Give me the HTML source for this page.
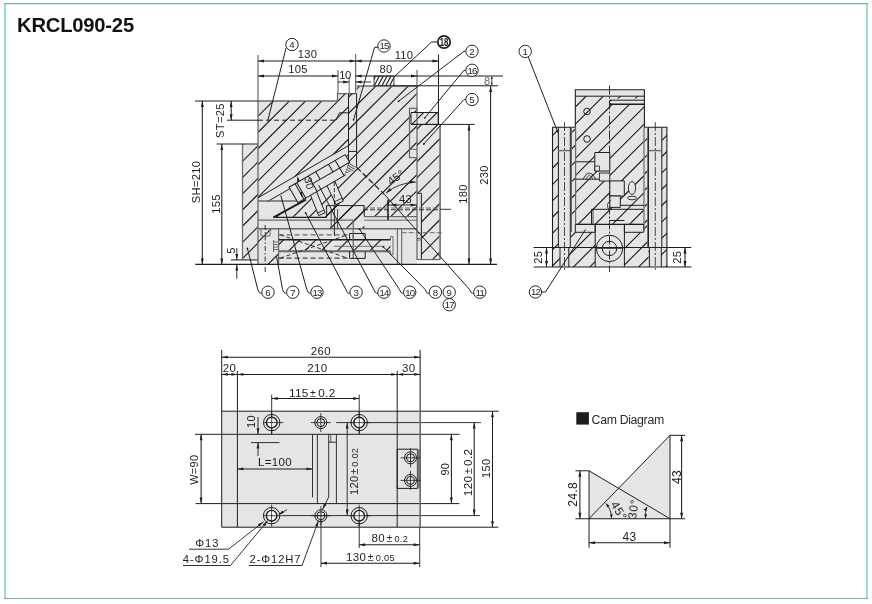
<!DOCTYPE html>
<html><head><meta charset="utf-8"><style>
html,body{margin:0;padding:0;background:#fff;width:872px;height:604px;overflow:hidden}
svg{display:block;will-change:transform}
text{font-family:"Liberation Sans",sans-serif}
</style></head><body>
<svg width="872" height="604" viewBox="0 0 872 604" font-family="Liberation Sans, sans-serif">
<defs><clipPath id="c1"><polygon points="258.0,101.0 337.5,101.0 337.5,93.7 348.5,93.7 348.5,145.6 258.0,197.8"/></clipPath><clipPath id="c2"><polygon points="242.5,144.0 258.0,144.0 258.0,259.9 242.5,259.9"/></clipPath><clipPath id="c3"><polygon points="348.5,93.7 356.6,93.7 356.6,167.0 348.5,167.0"/></clipPath><clipPath id="c4"><polygon points="356.6,86.0 417.0,86.0 417.0,205.0 393.7,205.0 384.3,194.3 356.6,167.4"/></clipPath><clipPath id="c5"><polygon points="417.0,124.4 440.3,124.4 440.3,259.6 421.4,259.6 421.4,193.3 417.0,193.3"/></clipPath><clipPath id="c6"><polygon points="411.0,112.5 438.2,112.5 438.2,124.4 411.0,124.4"/></clipPath><clipPath id="c7"><polygon points="374.0,76.0 394.0,76.0 394.0,85.7 374.0,85.7"/></clipPath><clipPath id="c8"><polygon points="273.5,217.4 306.0,199.6 337.0,184.0 356.6,167.4 384.3,194.3 393.7,205.2 417.0,205.2 417.0,216.6 364.2,216.6 364.2,228.5 353.2,228.5 353.2,220.2 326.6,220.2 326.6,217.4"/></clipPath><clipPath id="c9"><polygon points="278.6,239.7 390.5,239.7 390.5,251.3 278.6,251.3"/></clipPath><clipPath id="c10"><polygon points="326.6,205.6 364.2,205.6 364.2,228.5 326.6,228.5"/></clipPath><clipPath id="c11"><polygon points="258.0,228.7 278.6,228.7 278.6,264.4 258.0,264.4"/></clipPath><clipPath id="c12"><polygon points="344.4,174.9 349.8,162.4 356.6,167.4 353.0,171.0"/></clipPath><clipPath id="c13"><polygon points="575.3,96.2 644.4,96.2 644.4,224.4 575.3,224.4"/></clipPath><clipPath id="c14"><polygon points="552.5,127.2 575.3,127.2 575.3,267.0 552.5,267.0"/></clipPath><clipPath id="c15"><polygon points="644.4,127.2 666.9,127.2 666.9,267.0 644.4,267.0"/></clipPath><clipPath id="c16"><polygon points="568.8,224.4 648.5,224.4 648.5,267.0 568.8,267.0"/></clipPath></defs>
<line x1="5" y1="3" x2="5" y2="599" stroke="#8fd2c9" stroke-width="1.7"/>
<line x1="867" y1="3" x2="867" y2="599" stroke="#8fd2c9" stroke-width="1.7"/>
<line x1="4.2" y1="3.7" x2="867.8" y2="3.7" stroke="#70b2a9" stroke-width="1.2"/>
<line x1="4.2" y1="598.5" x2="867.8" y2="598.5" stroke="#70b2a9" stroke-width="1.2"/>
<text x="17.0" y="32.0" font-size="20.2" text-anchor="start" fill="#111" font-weight="bold" letter-spacing="-0.2">KRCL090-25</text>
<polygon points="258.0,197.8 348.5,145.6 356.6,167.0 387.7,198.0 417.0,205.0 417.0,264.4 258.0,264.4" fill="#e4e5e7" stroke="none"/>
<polygon points="258.0,101.0 337.5,101.0 337.5,93.7 348.5,93.7 348.5,145.6 258.0,197.8" fill="#e4e5e7" stroke="none"/>
<path clip-path="url(#c1)" d="M-1251.4,1577.0L1577.0,-1251.4M-1243.3,1585.1L1585.1,-1243.3M-1235.2,1593.2L1593.2,-1235.2M-1227.1,1601.3L1601.3,-1227.1M-1219.0,1609.4L1609.4,-1219.0M-1210.9,1617.5L1617.5,-1210.9M-1202.8,1625.6L1625.6,-1202.8M-1194.7,1633.7L1633.7,-1194.7M-1186.6,1641.8L1641.8,-1186.6M-1178.5,1649.9L1649.9,-1178.5M-1170.4,1658.0L1658.0,-1170.4M-1162.3,1666.1L1666.1,-1162.3M-1154.2,1674.2L1674.2,-1154.2M-1146.1,1682.3L1682.3,-1146.1M-1138.0,1690.5L1690.5,-1138.0M-1129.9,1698.6L1698.6,-1129.9" stroke="#1a1a1a" stroke-width="1.1" fill="none"/>
<polygon points="242.5,144.0 258.0,144.0 258.0,259.9 242.5,259.9" fill="#e4e5e7" stroke="none"/>
<path clip-path="url(#c2)" d="M-1236.6,1591.8L1591.8,-1236.6M-1228.5,1599.9L1599.9,-1228.5M-1220.4,1608.0L1608.0,-1220.4M-1212.3,1616.1L1616.1,-1212.3M-1204.2,1624.2L1624.2,-1204.2M-1196.1,1632.3L1632.3,-1196.1M-1188.0,1640.4L1640.4,-1188.0M-1179.9,1648.5L1648.5,-1179.9M-1171.8,1656.6L1656.6,-1171.8M-1163.7,1664.7L1664.7,-1163.7M-1155.6,1672.8L1672.8,-1155.6M-1147.5,1680.9L1680.9,-1147.5M-1139.4,1689.0L1689.0,-1139.4" stroke="#1a1a1a" stroke-width="1.1" fill="none"/>
<polygon points="348.5,93.7 356.6,93.7 356.6,167.0 348.5,167.0" fill="#e4e5e7" stroke="none"/>
<path clip-path="url(#c3)" d="M-1207.6,1620.8L1620.8,-1207.6M-1199.5,1628.9L1628.9,-1199.5M-1191.4,1637.1L1637.1,-1191.4M-1183.3,1645.2L1645.2,-1183.3M-1175.2,1653.3L1653.3,-1175.2M-1167.1,1661.4L1661.4,-1167.1M-1159.0,1669.5L1669.5,-1159.0M-1150.9,1677.6L1677.6,-1150.9M-1142.8,1685.7L1685.7,-1142.8" stroke="#1a1a1a" stroke-width="1.1" fill="none"/>
<polygon points="356.6,86.0 417.0,86.0 417.0,205.0 393.7,205.0 384.3,194.3 356.6,167.4" fill="#e4e5e7" stroke="none"/>
<path clip-path="url(#c4)" d="M-1207.6,1620.8L1620.8,-1207.6M-1199.5,1628.9L1628.9,-1199.5M-1191.4,1637.1L1637.1,-1191.4M-1183.3,1645.2L1645.2,-1183.3M-1175.2,1653.3L1653.3,-1175.2M-1167.1,1661.4L1661.4,-1167.1M-1159.0,1669.5L1669.5,-1159.0M-1150.9,1677.6L1677.6,-1150.9M-1142.8,1685.7L1685.7,-1142.8M-1134.7,1693.8L1693.8,-1134.7M-1126.5,1701.9L1701.9,-1126.5M-1118.4,1710.0L1710.0,-1118.4M-1110.3,1718.1L1718.1,-1110.3M-1102.2,1726.2L1726.2,-1102.2M-1094.1,1734.3L1734.3,-1094.1" stroke="#1a1a1a" stroke-width="1.1" fill="none"/>
<polygon points="417.0,124.4 421.4,124.4 421.4,259.6 417.0,259.6" fill="#e4e5e7" stroke="none"/>
<polygon points="417.0,124.4 440.3,124.4 440.3,259.6 421.4,259.6 421.4,193.3 417.0,193.3" fill="#e4e5e7" stroke="none"/>
<path clip-path="url(#c5)" d="M-1157.3,1671.1L1671.1,-1157.3M-1149.2,1679.2L1679.2,-1149.2M-1141.1,1687.3L1687.3,-1141.1M-1133.0,1695.4L1695.4,-1133.0M-1124.9,1703.5L1703.5,-1124.9M-1116.8,1711.6L1711.6,-1116.8M-1108.7,1719.7L1719.7,-1108.7M-1100.6,1727.8L1727.8,-1100.6M-1092.5,1735.9L1735.9,-1092.5M-1084.4,1744.0L1744.0,-1084.4M-1076.3,1752.1L1752.1,-1076.3M-1068.2,1760.2L1760.2,-1068.2M-1060.1,1768.3L1768.3,-1060.1M-1052.0,1776.4L1776.4,-1052.0" stroke="#1a1a1a" stroke-width="1.1" fill="none"/>
<polygon points="411.0,112.5 438.2,112.5 438.2,124.4 411.0,124.4" fill="#e4e5e7" stroke="none"/>
<path clip-path="url(#c6)" d="M-1159.5,1668.9L1668.9,-1159.5M-1152.8,1675.6L1675.6,-1152.8M-1146.1,1682.3L1682.3,-1146.1M-1139.4,1689.1L1689.1,-1139.4M-1132.6,1695.8L1695.8,-1132.6M-1125.9,1702.5L1702.5,-1125.9" stroke="#1a1a1a" stroke-width="1.1" fill="none"/>
<polygon points="374.0,76.0 394.0,76.0 394.0,85.7 374.0,85.7" fill="#f4f4f4" stroke="none"/>
<path clip-path="url(#c7)" d="M-620.7,1935.1L1257.2,-1596.7M-617.7,1936.7L1260.2,-1595.1M-614.7,1938.3L1263.2,-1593.5M-611.7,1939.9L1266.2,-1591.9M-608.7,1941.5L1269.2,-1590.3M-605.7,1943.1L1272.2,-1588.7M-602.7,1944.7L1275.2,-1587.1M-599.7,1946.3L1278.2,-1585.5M-596.7,1947.9L1281.2,-1583.9M-593.7,1949.5L1284.2,-1582.3M-590.7,1951.1L1287.2,-1580.7" stroke="#1a1a1a" stroke-width="1.1" fill="none"/>
<polyline points="258.0,264.4 258.0,101.0 337.5,101.0 337.5,93.7 348.5,93.7" stroke="#6a6a6a" stroke-width="1.3" fill="none"/>
<polyline points="242.5,259.9 242.5,144.0 258.0,144.0" stroke="#6a6a6a" stroke-width="1.3" fill="none"/>
<polyline points="348.5,93.7 348.5,167.0" stroke="#1e1e1e" stroke-width="1" fill="none"/>
<polyline points="356.6,93.7 356.6,167.4" stroke="#1e1e1e" stroke-width="1" fill="none"/>
<line x1="348.5" y1="93.7" x2="356.6" y2="93.7" stroke="#1e1e1e" stroke-width="1"/>
<line x1="348.5" y1="151.4" x2="356.6" y2="151.4" stroke="#1e1e1e" stroke-width="1"/>
<polyline points="356.6,86.0 417.0,86.0" stroke="#6a6a6a" stroke-width="1.6" fill="none"/>
<polyline points="417.0,86.0 417.0,108.4 409.5,108.4 409.5,157.6 417.0,157.6" stroke="#6a6a6a" stroke-width="1.2" fill="none"/>
<line x1="409.5" y1="149.4" x2="417.0" y2="149.4" stroke="#6a6a6a" stroke-width="1"/>
<line x1="417.0" y1="108.4" x2="417.0" y2="259.6" stroke="#6a6a6a" stroke-width="1.3"/>
<line x1="421.4" y1="193.3" x2="421.4" y2="259.6" stroke="#1e1e1e" stroke-width="1"/>
<line x1="417.0" y1="193.3" x2="421.4" y2="193.3" stroke="#1e1e1e" stroke-width="1"/>
<line x1="440.1" y1="124.4" x2="440.1" y2="259.6" stroke="#7c7c7c" stroke-width="1.8"/>
<polyline points="411.0,112.5 438.2,112.5 438.2,124.4 411.0,124.4 411.0,112.5" stroke="#1e1e1e" stroke-width="1" fill="none"/>
<polyline points="374.0,76.0 394.0,76.0 394.0,85.7 374.0,85.7 374.0,76.0" stroke="#1e1e1e" stroke-width="0.8" fill="none"/>
<line x1="258.0" y1="120.2" x2="336.0" y2="120.2" stroke="#1e1e1e" stroke-width="1" stroke-dasharray="5,3"/>
<polyline points="336.0,120.2 339.5,112.8 348.5,112.8" stroke="#1e1e1e" stroke-width="1" fill="none"/>
<line x1="356.6" y1="167.4" x2="384.3" y2="194.3" stroke="#1e1e1e" stroke-width="1.25" stroke-dasharray="6,2.5"/>
<line x1="258.0" y1="197.8" x2="348.5" y2="145.6" stroke="#1e1e1e" stroke-width="1"/>
<line x1="267.0" y1="201.8" x2="348.5" y2="155.0" stroke="#1e1e1e" stroke-width="1"/>
<path clip-path="url(#c8)" d="M-1207.8,1620.6L1620.6,-1207.8M-1199.7,1628.7L1628.7,-1199.7M-1191.6,1636.8L1636.8,-1191.6M-1183.5,1644.9L1644.9,-1183.5M-1175.4,1653.0L1653.0,-1175.4M-1167.3,1661.1L1661.1,-1167.3M-1159.2,1669.3L1669.3,-1159.2M-1151.1,1677.4L1677.4,-1151.1M-1143.0,1685.5L1685.5,-1143.0M-1134.9,1693.6L1693.6,-1134.9M-1126.8,1701.7L1701.7,-1126.8M-1118.7,1709.8L1709.8,-1118.7M-1110.6,1717.9L1717.9,-1110.6M-1102.5,1726.0L1726.0,-1102.5M-1094.3,1734.1L1734.1,-1094.3M-1086.2,1742.2L1742.2,-1086.2M-1078.1,1750.3L1750.3,-1078.1" stroke="#1a1a1a" stroke-width="1.1" fill="none"/>
<path clip-path="url(#c9)" d="M-1168.7,1659.7L1659.7,-1168.7M-1160.6,1667.8L1667.8,-1160.6M-1152.5,1675.9L1675.9,-1152.5M-1144.4,1684.0L1684.0,-1144.4M-1136.3,1692.1L1692.1,-1136.3M-1128.2,1700.3L1700.3,-1128.2M-1120.1,1708.4L1708.4,-1120.1M-1112.0,1716.5L1716.5,-1112.0M-1103.9,1724.6L1724.6,-1103.9M-1095.8,1732.7L1732.7,-1095.8M-1087.7,1740.8L1740.8,-1087.7M-1079.6,1748.9L1748.9,-1079.6" stroke="#1a1a1a" stroke-width="1.1" fill="none"/>
<path clip-path="url(#c10)" d="M-1159.2,1669.3L1669.3,-1159.2M-1151.1,1677.4L1677.4,-1151.1M-1143.0,1685.5L1685.5,-1143.0M-1134.9,1693.6L1693.6,-1134.9M-1126.8,1701.7L1701.7,-1126.8M-1118.7,1709.8L1709.8,-1118.7M-1110.6,1717.9L1717.9,-1110.6M-1102.5,1726.0L1726.0,-1102.5" stroke="#1a1a1a" stroke-width="1.1" fill="none"/>
<path clip-path="url(#c11)" d="M-1196.6,1631.9L1631.9,-1196.6M-1180.4,1648.1L1648.1,-1180.4M-1164.2,1664.2L1664.2,-1164.2M-1148.0,1680.4L1680.4,-1148.0M-1131.8,1696.6L1696.6,-1131.8M-1115.6,1712.8L1712.8,-1115.6" stroke="#1a1a1a" stroke-width="1.1" fill="none"/>
<line x1="258.0" y1="201.0" x2="300.0" y2="201.0" stroke="#6a6a6a" stroke-width="1.3"/>
<line x1="273.5" y1="217.4" x2="326.6" y2="217.4" stroke="#1e1e1e" stroke-width="1.4"/>
<line x1="273.5" y1="217.4" x2="306.0" y2="199.6" stroke="#1e1e1e" stroke-width="1.8"/>
<line x1="258.0" y1="220.2" x2="353.2" y2="220.2" stroke="#6a6a6a" stroke-width="1.2"/>
<line x1="364.2" y1="216.6" x2="417.0" y2="216.6" stroke="#6a6a6a" stroke-width="1.3"/>
<line x1="364.2" y1="220.2" x2="417.0" y2="220.2" stroke="#6a6a6a" stroke-width="1.0"/>
<line x1="258.0" y1="228.7" x2="417.0" y2="228.7" stroke="#6a6a6a" stroke-width="1.4"/>
<line x1="278.6" y1="228.7" x2="278.6" y2="264.4" stroke="#6a6a6a" stroke-width="1.2"/>
<line x1="278.6" y1="234.9" x2="349.2" y2="234.9" stroke="#6a6a6a" stroke-width="1.3" stroke-dasharray="5,3"/>
<line x1="278.6" y1="239.7" x2="390.5" y2="239.7" stroke="#1e1e1e" stroke-width="1.6"/>
<line x1="278.6" y1="251.3" x2="390.5" y2="251.3" stroke="#6a6a6a" stroke-width="1.9"/>
<line x1="278.6" y1="258.1" x2="349.2" y2="258.1" stroke="#1e1e1e" stroke-width="1" stroke-dasharray="5,3"/>
<polyline points="349.6,239.7 349.6,233.5 365.2,233.5 365.2,239.7" stroke="#1e1e1e" stroke-width="1" fill="none"/>
<polyline points="349.6,251.3 349.6,258.4 365.2,258.4 365.2,251.3" stroke="#1e1e1e" stroke-width="1" fill="none"/>
<line x1="353.2" y1="233.5" x2="353.2" y2="258.4" stroke="#1e1e1e" stroke-width="0.8"/>
<polyline points="390.5,239.7 390.5,236.6 393.0,236.6 393.0,254.7 390.5,254.7 390.5,251.3" stroke="#6a6a6a" stroke-width="1" fill="none"/>
<line x1="397.4" y1="228.7" x2="397.4" y2="264.4" stroke="#6a6a6a" stroke-width="1.1"/>
<line x1="401.7" y1="228.7" x2="401.7" y2="264.4" stroke="#6a6a6a" stroke-width="1.1"/>
<line x1="401.7" y1="232.7" x2="443.0" y2="232.7" stroke="#6a6a6a" stroke-width="1" stroke-dasharray="5,2"/>
<line x1="353.2" y1="220.2" x2="353.2" y2="240.0" stroke="#6a6a6a" stroke-width="1.2"/>
<polyline points="326.6,217.4 326.6,205.6 364.2,205.6 364.2,216.6" stroke="#1e1e1e" stroke-width="1" fill="none"/>
<line x1="331.2" y1="209.0" x2="331.2" y2="228.5" stroke="#1e1e1e" stroke-width="0.8"/>
<line x1="337.6" y1="209.0" x2="337.6" y2="228.5" stroke="#1e1e1e" stroke-width="0.8"/>
<line x1="334.5" y1="190.0" x2="334.5" y2="236.0" stroke="#1e1e1e" stroke-width="0.8" stroke-dasharray="4,2"/>
<line x1="388.0" y1="199.6" x2="388.0" y2="220.0" stroke="#1e1e1e" stroke-width="1.6"/>
<line x1="363.0" y1="208.0" x2="440.0" y2="208.0" stroke="#6a6a6a" stroke-width="1" stroke-dasharray="5,2"/>
<line x1="363.0" y1="209.8" x2="440.0" y2="209.8" stroke="#1e1e1e" stroke-width="0.9" stroke-dasharray="5,2"/>
<line x1="440.0" y1="209.3" x2="451.0" y2="209.3" stroke="#1e1e1e" stroke-width="0.9"/>
<line x1="280.3" y1="234.9" x2="347.5" y2="258.1" stroke="#1e1e1e" stroke-width="0.9" stroke-dasharray="4,2.5"/>
<line x1="280.3" y1="258.1" x2="347.5" y2="234.9" stroke="#1e1e1e" stroke-width="0.9" stroke-dasharray="4,2.5"/>
<line x1="334.0" y1="246.3" x2="384.5" y2="246.3" stroke="#6a6a6a" stroke-width="0.9"/>
<polyline points="261.0,229.0 261.0,236.0 270.0,236.0 270.0,229.0" stroke="#6a6a6a" stroke-width="1" fill="none"/>
<line x1="265.2" y1="225.0" x2="265.2" y2="274.0" stroke="#1e1e1e" stroke-width="0.9" stroke-dasharray="5,2,1.5,2"/>
<line x1="273.5" y1="242.0" x2="278.6" y2="242.0" stroke="#6a6a6a" stroke-width="1"/>
<line x1="273.5" y1="244.5" x2="278.6" y2="244.5" stroke="#6a6a6a" stroke-width="1"/>
<line x1="273.5" y1="247.0" x2="278.6" y2="247.0" stroke="#6a6a6a" stroke-width="1"/>
<line x1="273.5" y1="249.5" x2="278.6" y2="249.5" stroke="#6a6a6a" stroke-width="1"/>
<polyline points="273.5,240.0 273.5,252.0" stroke="#6a6a6a" stroke-width="1" fill="none"/>
<polygon points="308.2,189.5 314.6,186.8 325.1,212.8 318.7,215.5" fill="#e4e5e7" stroke="#1e1e1e" stroke-width="1"/>
<line x1="317.6" y1="212.9" x2="323.9" y2="210.3" stroke="#1e1e1e" stroke-width="0.9"/>
<polygon points="324.2,180.0 332.4,175.5 343.3,201.0 336.0,204.6" fill="#e4e5e7" stroke="#1e1e1e" stroke-width="1"/>
<line x1="335.0" y1="201.5" x2="342.0" y2="198.3" stroke="#1e1e1e" stroke-width="0.9"/>
<line x1="334.3" y1="176.0" x2="334.3" y2="236.0" stroke="#1e1e1e" stroke-width="0.9" stroke-dasharray="4,2"/>
<g transform="translate(289,187.3) rotate(-30.2)" stroke="#1e1e1e" stroke-width="1" fill="none">
<path d="M0,0H65V8.8L54.2,17.7H0Z" fill="#e4e5e7"/>
<path d="M7,0V17.7 M22.3,0V17.7 M31,0V9 M45.7,0V9 M53.5,0V17.7 M22.3,8.8H65 M9,0V17.7"/>
</g>
<polygon points="344.4,174.9 349.8,162.4 356.6,167.4 353.0,171.0" fill="#e4e5e7" stroke="none"/>
<path clip-path="url(#c12)" d="M-1711.2,-1036.2L1753.0,963.8M-1712.3,-1034.3L1751.9,965.7M-1713.4,-1032.4L1750.8,967.6M-1714.5,-1030.5L1749.7,969.5M-1715.6,-1028.6L1748.6,971.4M-1716.7,-1026.7L1747.5,973.3M-1717.8,-1024.8L1746.4,975.2M-1718.9,-1022.9L1745.3,977.1M-1720.0,-1021.0L1744.2,979.0M-1721.1,-1019.1L1743.1,980.9M-1722.2,-1017.1L1742.0,982.9M-1723.3,-1015.2L1740.9,984.8" stroke="#1a1a1a" stroke-width="0.8" fill="none"/>
<text x="305.5" y="184.3" font-size="10.5" text-anchor="middle" fill="#1e1e1e" font-weight="normal" letter-spacing="0.3" transform="rotate(75 305.5 184.3)">30</text>
<polygon points="297.4,176.0 299.9,181.1 297.0,181.7" fill="#1e1e1e"/>
<polygon points="302.0,197.5 299.5,192.4 302.4,191.8" fill="#1e1e1e"/>
<line x1="195.3" y1="264.4" x2="497.0" y2="264.4" stroke="#1e1e1e" stroke-width="1.3"/>
<line x1="416.6" y1="259.6" x2="440.3" y2="259.6" stroke="#6a6a6a" stroke-width="1.2"/>
<line x1="416.6" y1="238.4" x2="421.4" y2="238.4" stroke="#6a6a6a" stroke-width="1"/>
<line x1="416.6" y1="240.0" x2="421.4" y2="240.0" stroke="#6a6a6a" stroke-width="1"/>
<line x1="258.0" y1="55.0" x2="258.0" y2="101.0" stroke="#6a6a6a" stroke-width="1.2"/>
<line x1="355.6" y1="54.0" x2="355.6" y2="93.7" stroke="#6a6a6a" stroke-width="1.2"/>
<line x1="338.0" y1="70.0" x2="338.0" y2="94.0" stroke="#6a6a6a" stroke-width="1.2"/>
<line x1="349.2" y1="77.0" x2="349.2" y2="94.0" stroke="#6a6a6a" stroke-width="1"/>
<line x1="438.5" y1="54.5" x2="438.5" y2="124.4" stroke="#1e1e1e" stroke-width="1"/>
<line x1="417.0" y1="70.0" x2="417.0" y2="86.0" stroke="#6a6a6a" stroke-width="1.2"/>
<line x1="258.0" y1="61.0" x2="355.6" y2="61.0" stroke="#1e1e1e" stroke-width="1.05"/>
<polygon points="258.0,61.0 264.0,59.5 264.0,62.5" fill="#1e1e1e"/>
<polygon points="355.6,61.0 349.6,62.5 349.6,59.5" fill="#1e1e1e"/>
<line x1="355.6" y1="61.0" x2="438.5" y2="61.0" stroke="#1e1e1e" stroke-width="1.05"/>
<polygon points="355.6,61.0 361.6,59.5 361.6,62.5" fill="#1e1e1e"/>
<polygon points="438.5,61.0 432.5,62.5 432.5,59.5" fill="#1e1e1e"/>
<line x1="258.0" y1="76.0" x2="338.0" y2="76.0" stroke="#1e1e1e" stroke-width="1.05"/>
<polygon points="258.0,76.0 264.0,74.5 264.0,77.5" fill="#1e1e1e"/>
<polygon points="338.0,76.0 332.0,77.5 332.0,74.5" fill="#1e1e1e"/>
<line x1="355.6" y1="76.0" x2="417.0" y2="76.0" stroke="#1e1e1e" stroke-width="1.05"/>
<polygon points="355.6,76.0 361.6,74.5 361.6,77.5" fill="#1e1e1e"/>
<polygon points="417.0,76.0 411.0,77.5 411.0,74.5" fill="#1e1e1e"/>
<line x1="338.0" y1="82.0" x2="349.2" y2="82.0" stroke="#1e1e1e" stroke-width="0.9"/>
<polygon points="349.2,82.0 343.2,83.5 343.2,80.5" fill="#1e1e1e"/>
<line x1="355.6" y1="82.0" x2="371.0" y2="82.0" stroke="#1e1e1e" stroke-width="0.9"/>
<polygon points="355.6,82.0 361.6,80.5 361.6,83.5" fill="#1e1e1e"/>
<line x1="417.0" y1="76.0" x2="503.0" y2="76.0" stroke="#1e1e1e" stroke-width="1.1"/>
<line x1="394.0" y1="85.7" x2="498.0" y2="85.7" stroke="#1e1e1e" stroke-width="1.1"/>
<text x="307.5" y="58.0" font-size="11.2" text-anchor="middle" fill="#1e1e1e" font-weight="normal" letter-spacing="0.3">130</text>
<text x="298.0" y="73.4" font-size="11.2" text-anchor="middle" fill="#1e1e1e" font-weight="normal" letter-spacing="0.3">105</text>
<text x="345.0" y="78.5" font-size="11.2" text-anchor="middle" fill="#1e1e1e" font-weight="normal" letter-spacing="-0.5">10</text>
<text x="404.0" y="58.9" font-size="11.2" text-anchor="middle" fill="#1e1e1e" font-weight="normal" letter-spacing="0.3">110</text>
<text x="386.0" y="73.3" font-size="11.2" text-anchor="middle" fill="#1e1e1e" font-weight="normal" letter-spacing="0.3">80</text>
<text x="487.0" y="84.9" font-size="11.2" text-anchor="middle" fill="#6a6a6a" font-weight="normal" letter-spacing="0">8</text>
<line x1="491.8" y1="76.5" x2="491.8" y2="85.2" stroke="#1e1e1e" stroke-width="0.8"/>
<polygon points="491.8,76.5 492.8,79.0 490.8,79.0" fill="#1e1e1e"/>
<polygon points="491.8,85.2 490.8,82.7 492.8,82.7" fill="#1e1e1e"/>
<line x1="195.0" y1="101.0" x2="258.0" y2="101.0" stroke="#1e1e1e" stroke-width="1"/>
<line x1="202.3" y1="101.0" x2="202.3" y2="264.4" stroke="#1e1e1e" stroke-width="1.05"/>
<polygon points="202.3,101.0 203.8,107.0 200.9,107.0" fill="#1e1e1e"/>
<polygon points="202.3,264.4 200.9,258.4 203.8,258.4" fill="#1e1e1e"/>
<text x="199.5" y="182.0" font-size="11.2" text-anchor="middle" fill="#1e1e1e" font-weight="normal" letter-spacing="0.3" transform="rotate(-90 199.5 182.0)">SH=210</text>
<line x1="231.2" y1="101.0" x2="231.2" y2="120.2" stroke="#1e1e1e" stroke-width="1.05"/>
<polygon points="231.2,101.0 232.6,107.0 229.8,107.0" fill="#1e1e1e"/>
<polygon points="231.2,120.2 229.8,114.2 232.6,114.2" fill="#1e1e1e"/>
<line x1="227.0" y1="120.2" x2="258.0" y2="120.2" stroke="#1e1e1e" stroke-width="1"/>
<text x="223.8" y="120.5" font-size="11.2" text-anchor="middle" fill="#1e1e1e" font-weight="normal" letter-spacing="0.3" transform="rotate(-90 223.8 120.5)">ST=25</text>
<line x1="216.5" y1="144.0" x2="242.5" y2="144.0" stroke="#1e1e1e" stroke-width="1"/>
<line x1="221.8" y1="144.0" x2="221.8" y2="264.4" stroke="#1e1e1e" stroke-width="1.05"/>
<polygon points="221.8,144.0 223.2,150.0 220.4,150.0" fill="#1e1e1e"/>
<polygon points="221.8,264.4 220.4,258.4 223.2,258.4" fill="#1e1e1e"/>
<text x="219.8" y="204.0" font-size="11.2" text-anchor="middle" fill="#1e1e1e" font-weight="normal" letter-spacing="0.3" transform="rotate(-90 219.8 204.0)">155</text>
<line x1="231.0" y1="259.9" x2="258.0" y2="259.9" stroke="#6a6a6a" stroke-width="1.6"/>
<line x1="236.8" y1="248.0" x2="236.8" y2="259.9" stroke="#1e1e1e" stroke-width="0.9"/>
<polygon points="236.8,259.9 235.4,253.9 238.2,253.9" fill="#1e1e1e"/>
<line x1="236.8" y1="278.7" x2="236.8" y2="264.4" stroke="#1e1e1e" stroke-width="0.9"/>
<polygon points="236.8,264.4 238.2,270.4 235.4,270.4" fill="#1e1e1e"/>
<text x="234.5" y="250.5" font-size="11.2" text-anchor="middle" fill="#1e1e1e" font-weight="normal" letter-spacing="0.3" transform="rotate(-90 234.5 250.5)">5</text>
<line x1="411.0" y1="124.4" x2="474.7" y2="124.4" stroke="#1e1e1e" stroke-width="1"/>
<line x1="469.0" y1="124.4" x2="469.0" y2="264.4" stroke="#1e1e1e" stroke-width="1.05"/>
<polygon points="469.0,124.4 470.4,130.4 467.6,130.4" fill="#1e1e1e"/>
<polygon points="469.0,264.4 467.6,258.4 470.4,258.4" fill="#1e1e1e"/>
<line x1="490.6" y1="86.0" x2="490.6" y2="264.4" stroke="#1e1e1e" stroke-width="1.05"/>
<polygon points="490.6,86.0 492.1,92.0 489.2,92.0" fill="#1e1e1e"/>
<polygon points="490.6,264.4 489.2,258.4 492.1,258.4" fill="#1e1e1e"/>
<text x="466.5" y="194.0" font-size="11.2" text-anchor="middle" fill="#1e1e1e" font-weight="normal" letter-spacing="0.3" transform="rotate(-90 466.5 194.0)">180</text>
<text x="488.0" y="175.0" font-size="11.2" text-anchor="middle" fill="#1e1e1e" font-weight="normal" letter-spacing="0.3" transform="rotate(-90 488.0 175.0)">230</text>
<path d="M386,193 Q398,183 415.7,182" stroke="#1e1e1e" stroke-width="0.9" fill="none"/>
<polygon points="386.0,193.0 389.8,188.1 391.6,190.4" fill="#1e1e1e"/>
<polygon points="415.7,182.0 409.7,183.4 409.7,180.6" fill="#1e1e1e"/>
<text x="398.0" y="180.5" font-size="11.2" text-anchor="middle" fill="#1e1e1e" font-weight="normal" letter-spacing="0.3" transform="rotate(-35 398.0 180.5)">45°</text>
<text x="405.5" y="202.5" font-size="11.2" text-anchor="middle" fill="#1e1e1e" font-weight="normal" letter-spacing="0.3">43</text>
<line x1="387.7" y1="205.0" x2="417.0" y2="205.0" stroke="#1e1e1e" stroke-width="0.9"/>
<polygon points="390.5,205.0 396.5,203.6 396.5,206.4" fill="#1e1e1e"/>
<polygon points="416.5,205.0 410.5,206.4 410.5,203.6" fill="#1e1e1e"/>
<polyline points="286.0,48.0 267.8,120.6" stroke="#1e1e1e" stroke-width="1.0" fill="none"/>
<circle cx="292.0" cy="44.5" r="6.2" stroke="#262626" stroke-width="1" fill="white"/>
<text x="292.0" y="47.9" font-size="9.6" text-anchor="middle" fill="#1e1e1e" font-weight="normal">4</text>
<polyline points="378.0,47.3 374.6,47.3 353.6,119.8" stroke="#1e1e1e" stroke-width="1.0" fill="none"/>
<circle cx="353.6" cy="119.8" r="0.9" stroke="#1e1e1e" stroke-width="0" fill="#1e1e1e"/>
<circle cx="384.0" cy="46.0" r="6.2" stroke="#262626" stroke-width="1" fill="white"/>
<text x="384.0" y="49.4" font-size="9.6" text-anchor="middle" fill="#1e1e1e" font-weight="normal" letter-spacing="-0.9">15</text>
<polyline points="438.0,42.0 431.6,42.0 394.0,77.0" stroke="#1e1e1e" stroke-width="1.0" fill="none"/>
<circle cx="444.0" cy="42.0" r="6.2" stroke="#1e1e1e" stroke-width="1.7" fill="white"/>
<text x="439.8" y="45.7" font-size="10.6" font-weight="bold" fill="#111" textLength="8.6" lengthAdjust="spacingAndGlyphs">18</text>
<polyline points="466.0,51.3 464.0,51.3 398.5,101.3" stroke="#1e1e1e" stroke-width="1.0" fill="none"/>
<circle cx="398.5" cy="101.3" r="0.9" stroke="#1e1e1e" stroke-width="0" fill="#1e1e1e"/>
<circle cx="472.0" cy="51.3" r="6.2" stroke="#262626" stroke-width="1" fill="white"/>
<text x="472.0" y="54.7" font-size="9.6" text-anchor="middle" fill="#1e1e1e" font-weight="normal">2</text>
<polyline points="466.0,70.3 464.0,70.3 424.8,117.8" stroke="#1e1e1e" stroke-width="1.0" fill="none"/>
<circle cx="424.8" cy="117.8" r="0.9" stroke="#1e1e1e" stroke-width="0" fill="#1e1e1e"/>
<circle cx="472.0" cy="70.3" r="6.2" stroke="#262626" stroke-width="1" fill="white"/>
<text x="472.0" y="73.7" font-size="9.6" text-anchor="middle" fill="#1e1e1e" font-weight="normal" letter-spacing="-0.9">16</text>
<polyline points="466.0,99.5 464.0,99.5 423.8,144.0" stroke="#1e1e1e" stroke-width="1.0" fill="none"/>
<circle cx="423.8" cy="144.0" r="0.9" stroke="#1e1e1e" stroke-width="0" fill="#1e1e1e"/>
<circle cx="472.0" cy="99.5" r="6.2" stroke="#262626" stroke-width="1" fill="white"/>
<text x="472.0" y="102.9" font-size="9.6" text-anchor="middle" fill="#1e1e1e" font-weight="normal">5</text>
<path d="M247.4,248.4 L257.8,289.5 Q259.0,293.3 260.8,293.3 L261.8,293.3" stroke="#1e1e1e" stroke-width="1" fill="none"/>
<circle cx="247.4" cy="248.4" r="0.9" stroke="#1e1e1e" stroke-width="0" fill="#1e1e1e"/>
<path d="M276.5,256.1 L282.6,289.5 Q283.8,293.3 285.6,293.3 L286.6,293.3" stroke="#1e1e1e" stroke-width="1" fill="none"/>
<path d="M280.8,195.4 L306.8,289.5 Q308.0,293.3 309.8,293.3 L310.8,293.3" stroke="#1e1e1e" stroke-width="1" fill="none"/>
<path d="M305.6,213.0 L345.9,289.5 Q347.1,293.3 348.9,293.3 L349.9,293.3" stroke="#1e1e1e" stroke-width="1" fill="none"/>
<circle cx="305.6" cy="213.0" r="0.9" stroke="#1e1e1e" stroke-width="0" fill="#1e1e1e"/>
<path d="M318.6,185.1 L373.8,289.5 Q375.0,293.3 376.8,293.3 L377.8,293.3" stroke="#1e1e1e" stroke-width="1" fill="none"/>
<path d="M359.5,229.2 L399.5,289.5 Q400.7,293.3 402.5,293.3 L403.5,293.3" stroke="#1e1e1e" stroke-width="1" fill="none"/>
<circle cx="359.5" cy="229.2" r="0.9" stroke="#1e1e1e" stroke-width="0" fill="#1e1e1e"/>
<path d="M383.3,246.9 L425.2,289.5 Q426.4,293.3 428.2,293.3 L429.2,293.3" stroke="#1e1e1e" stroke-width="1" fill="none"/>
<circle cx="383.3" cy="246.9" r="0.9" stroke="#1e1e1e" stroke-width="0" fill="#1e1e1e"/>
<path d="M384.3,194.3 L469.6,289.5 Q470.8,293.3 472.6,293.3 L473.6,293.3" stroke="#1e1e1e" stroke-width="1" fill="none"/>
<circle cx="268.0" cy="292.2" r="6.2" stroke="#262626" stroke-width="1" fill="white"/>
<text x="268.0" y="295.6" font-size="9.6" text-anchor="middle" fill="#1e1e1e" font-weight="normal">6</text>
<circle cx="292.8" cy="292.2" r="6.2" stroke="#262626" stroke-width="1" fill="white"/>
<text x="292.8" y="295.6" font-size="9.6" text-anchor="middle" fill="#1e1e1e" font-weight="normal">7</text>
<circle cx="317.0" cy="292.2" r="6.2" stroke="#262626" stroke-width="1" fill="white"/>
<text x="317.0" y="295.6" font-size="9.6" text-anchor="middle" fill="#1e1e1e" font-weight="normal" letter-spacing="-0.9">13</text>
<circle cx="356.1" cy="292.2" r="6.2" stroke="#262626" stroke-width="1" fill="white"/>
<text x="356.1" y="295.6" font-size="9.6" text-anchor="middle" fill="#1e1e1e" font-weight="normal">3</text>
<circle cx="384.0" cy="292.2" r="6.2" stroke="#262626" stroke-width="1" fill="white"/>
<text x="384.0" y="295.6" font-size="9.6" text-anchor="middle" fill="#1e1e1e" font-weight="normal" letter-spacing="-0.9">14</text>
<circle cx="409.7" cy="292.2" r="6.2" stroke="#262626" stroke-width="1" fill="white"/>
<text x="409.7" y="295.6" font-size="9.6" text-anchor="middle" fill="#1e1e1e" font-weight="normal" letter-spacing="-0.9">10</text>
<circle cx="435.4" cy="292.2" r="6.2" stroke="#262626" stroke-width="1" fill="white"/>
<text x="435.4" y="295.6" font-size="9.6" text-anchor="middle" fill="#1e1e1e" font-weight="normal">8</text>
<circle cx="479.8" cy="292.2" r="6.2" stroke="#262626" stroke-width="1" fill="white"/>
<text x="479.8" y="295.6" font-size="9.6" text-anchor="middle" fill="#1e1e1e" font-weight="normal" letter-spacing="-0.9">11</text>
<circle cx="449.2" cy="292.2" r="6.2" stroke="#262626" stroke-width="1" fill="white"/>
<text x="449.2" y="295.6" font-size="9.6" text-anchor="middle" fill="#1e1e1e" font-weight="normal">9</text>
<circle cx="449.2" cy="304.7" r="6.2" stroke="#262626" stroke-width="1" fill="white"/>
<text x="449.2" y="308.1" font-size="9.6" text-anchor="middle" fill="#1e1e1e" font-weight="normal" letter-spacing="-0.9">17</text>
<polygon points="575.3,89.7 644.4,89.7 644.4,224.4 575.3,224.4" fill="#e4e5e7" stroke="none"/>
<path clip-path="url(#c13)" d="M-1090.2,1738.2L1738.2,-1090.2M-1081.6,1746.8L1746.8,-1081.6M-1073.0,1755.4L1755.4,-1073.0M-1064.5,1764.0L1764.0,-1064.5M-1055.9,1772.5L1772.5,-1055.9M-1047.3,1781.1L1781.1,-1047.3M-1038.7,1789.7L1789.7,-1038.7M-1030.1,1798.3L1798.3,-1030.1M-1021.6,1806.9L1806.9,-1021.6M-1013.0,1815.4L1815.4,-1013.0M-1004.4,1824.0L1824.0,-1004.4M-995.8,1832.6L1832.6,-995.8M-987.3,1841.2L1841.2,-987.3M-978.7,1849.7L1849.7,-978.7M-970.1,1858.3L1858.3,-970.1" stroke="#1a1a1a" stroke-width="1.1" fill="none"/>
<polygon points="609.5,98.6 644.4,98.6 644.4,104.4 609.5,104.4" fill="#e4e5e7" stroke="none"/>
<polygon points="552.5,127.2 575.3,127.2 575.3,267.0 552.5,267.0" fill="#e4e5e7" stroke="none"/>
<path clip-path="url(#c14)" d="M-1086.5,1741.9L1741.9,-1086.5M-1078.4,1750.1L1750.1,-1078.4M-1070.2,1758.2L1758.2,-1070.2M-1062.1,1766.4L1766.4,-1062.1M-1053.9,1774.5L1774.5,-1053.9M-1045.7,1782.7L1782.7,-1045.7M-1037.6,1790.8L1790.8,-1037.6M-1029.4,1799.0L1799.0,-1029.4M-1021.3,1807.1L1807.1,-1021.3M-1013.1,1815.3L1815.3,-1013.1M-1005.0,1823.4L1823.4,-1005.0M-996.8,1831.6L1831.6,-996.8M-988.7,1839.8L1839.8,-988.7M-980.5,1847.9L1847.9,-980.5" stroke="#1a1a1a" stroke-width="1.1" fill="none"/>
<polygon points="644.4,127.2 666.9,127.2 666.9,267.0 644.4,267.0" fill="#e4e5e7" stroke="none"/>
<path clip-path="url(#c15)" d="M-1037.6,1790.8L1790.8,-1037.6M-1029.4,1799.0L1799.0,-1029.4M-1021.3,1807.1L1807.1,-1021.3M-1013.1,1815.3L1815.3,-1013.1M-1005.0,1823.4L1823.4,-1005.0M-996.8,1831.6L1831.6,-996.8M-988.7,1839.8L1839.8,-988.7M-980.5,1847.9L1847.9,-980.5M-972.4,1856.1L1856.1,-972.4M-964.2,1864.2L1864.2,-964.2M-956.1,1872.4L1872.4,-956.1M-947.9,1880.5L1880.5,-947.9M-939.8,1888.7L1888.7,-939.8M-931.6,1896.8L1896.8,-931.6" stroke="#1a1a1a" stroke-width="1.1" fill="none"/>
<polygon points="568.8,224.4 648.5,224.4 648.5,267.0 568.8,267.0" fill="#e4e5e7" stroke="none"/>
<path clip-path="url(#c16)" d="M-1026.6,1801.8L1801.8,-1026.6M-1018.5,1810.0L1810.0,-1018.5M-1010.3,1818.1L1818.1,-1010.3M-1002.2,1826.3L1826.3,-1002.2M-994.0,1834.4L1834.4,-994.0M-985.8,1842.6L1842.6,-985.8M-977.7,1850.7L1850.7,-977.7M-969.5,1858.9L1858.9,-969.5M-961.4,1867.0L1867.0,-961.4M-953.2,1875.2L1875.2,-953.2M-945.1,1883.3L1883.3,-945.1" stroke="#1a1a1a" stroke-width="1.1" fill="none"/>
<polygon points="558.4,127.2 570.3,127.2 570.3,247.5 558.4,247.5" fill="#e4e5e7" stroke="none"/>
<polygon points="648.5,127.2 661.8,127.2 661.8,247.5 648.5,247.5" fill="#e4e5e7" stroke="none"/>
<polygon points="560.0,247.5 568.8,247.5 568.8,267.0 560.0,267.0" fill="#e4e5e7" stroke="none"/>
<polygon points="649.4,247.5 661.3,247.5 661.3,267.0 649.4,267.0" fill="#e4e5e7" stroke="none"/>
<polygon points="595.2,224.4 624.4,224.4 624.4,267.0 595.2,267.0" fill="#e4e5e7" stroke="none"/>
<circle cx="609.5" cy="248.4" r="13.2" stroke="#1e1e1e" stroke-width="1" fill="none"/>
<circle cx="609.5" cy="248.4" r="7.2" stroke="#1e1e1e" stroke-width="1" fill="none"/>
<line x1="596.0" y1="248.4" x2="623.0" y2="248.4" stroke="#1e1e1e" stroke-width="0.8"/>
<polygon points="575.3,224.4 595.2,224.4 595.2,232.3 575.3,232.3" fill="#e4e5e7" stroke="#1e1e1e" stroke-width="1"/>
<polygon points="624.4,224.4 643.6,224.4 643.6,232.3 624.4,232.3" fill="#e4e5e7" stroke="#1e1e1e" stroke-width="1"/>
<polyline points="575.3,127.2 575.3,89.7 644.4,89.7 644.4,127.2" stroke="#1e1e1e" stroke-width="1.1" fill="none"/>
<line x1="575.3" y1="96.2" x2="644.4" y2="96.2" stroke="#1e1e1e" stroke-width="1"/>
<line x1="609.5" y1="100.2" x2="644.4" y2="100.2" stroke="#1e1e1e" stroke-width="1"/>
<line x1="609.5" y1="104.2" x2="644.4" y2="104.2" stroke="#1e1e1e" stroke-width="1.4"/>
<path d="M611.5,100.2 A2,2 0 0 0 611.5,104.2" stroke="#1e1e1e" stroke-width="1" fill="none"/>
<polyline points="552.5,267.0 552.5,127.2 575.3,127.2" stroke="#1e1e1e" stroke-width="1.1" fill="none"/>
<polyline points="666.9,267.0 666.9,127.2 644.4,127.2" stroke="#1e1e1e" stroke-width="1.1" fill="none"/>
<line x1="558.4" y1="127.2" x2="558.4" y2="247.5" stroke="#1e1e1e" stroke-width="1"/>
<line x1="570.3" y1="127.2" x2="570.3" y2="247.5" stroke="#1e1e1e" stroke-width="1"/>
<line x1="648.5" y1="127.2" x2="648.5" y2="247.5" stroke="#1e1e1e" stroke-width="1"/>
<line x1="661.8" y1="127.2" x2="661.8" y2="247.5" stroke="#1e1e1e" stroke-width="1"/>
<line x1="560.0" y1="247.5" x2="560.0" y2="267.0" stroke="#1e1e1e" stroke-width="1"/>
<line x1="568.8" y1="247.5" x2="568.8" y2="267.0" stroke="#1e1e1e" stroke-width="1"/>
<line x1="649.4" y1="247.5" x2="649.4" y2="267.0" stroke="#1e1e1e" stroke-width="1"/>
<line x1="661.3" y1="247.5" x2="661.3" y2="267.0" stroke="#1e1e1e" stroke-width="1"/>
<line x1="571.5" y1="127.2" x2="571.5" y2="232.0" stroke="#6a6a6a" stroke-width="1"/>
<line x1="575.6" y1="127.2" x2="575.6" y2="224.4" stroke="#6a6a6a" stroke-width="1.2"/>
<line x1="644.0" y1="127.2" x2="644.0" y2="232.0" stroke="#6a6a6a" stroke-width="1.2"/>
<line x1="647.6" y1="127.2" x2="647.6" y2="247.5" stroke="#6a6a6a" stroke-width="1"/>
<line x1="558.4" y1="150.6" x2="570.3" y2="150.6" stroke="#6a6a6a" stroke-width="1.4"/>
<line x1="648.5" y1="150.6" x2="661.8" y2="150.6" stroke="#6a6a6a" stroke-width="1.4"/>
<line x1="575.3" y1="224.4" x2="643.6" y2="224.4" stroke="#1e1e1e" stroke-width="1.1"/>
<line x1="595.2" y1="224.4" x2="595.2" y2="267.0" stroke="#1e1e1e" stroke-width="1"/>
<line x1="624.4" y1="224.4" x2="624.4" y2="267.0" stroke="#1e1e1e" stroke-width="1"/>
<line x1="533.6" y1="247.5" x2="691.4" y2="247.5" stroke="#1e1e1e" stroke-width="1"/>
<line x1="533.6" y1="267.0" x2="691.4" y2="267.0" stroke="#1e1e1e" stroke-width="1.1"/>
<line x1="609.5" y1="85.5" x2="609.5" y2="272.0" stroke="#1e1e1e" stroke-width="0.9" stroke-dasharray="9,2,2,2"/>
<line x1="564.5" y1="122.0" x2="564.5" y2="272.0" stroke="#1e1e1e" stroke-width="0.8" stroke-dasharray="9,2,2,2"/>
<line x1="655.3" y1="122.0" x2="655.3" y2="272.0" stroke="#1e1e1e" stroke-width="0.8" stroke-dasharray="9,2,2,2"/>
<circle cx="587.0" cy="111.5" r="3.3" stroke="#1e1e1e" stroke-width="1" fill="none"/>
<circle cx="587.0" cy="139.0" r="3.3" stroke="#1e1e1e" stroke-width="1" fill="none"/>
<polygon points="594.8,152.5 609.8,152.5 609.8,171.0 594.8,171.0" fill="#e4e5e7" stroke="#1e1e1e" stroke-width="1"/>
<polygon points="594.8,166.0 599.5,166.0 599.5,171.0 594.8,171.0" fill="#e4e5e7" stroke="#1e1e1e" stroke-width="0.8"/>
<line x1="575.6" y1="161.8" x2="594.8" y2="161.8" stroke="#1e1e1e" stroke-width="1"/>
<line x1="575.6" y1="179.2" x2="599.4" y2="179.2" stroke="#1e1e1e" stroke-width="1"/>
<polygon points="599.4,173.0 609.8,173.0 609.8,181.0 599.4,181.0" fill="#e4e5e7" stroke="#1e1e1e" stroke-width="0.9"/>
<polygon points="609.8,180.9 624.3,180.9 624.3,196.0 609.8,196.0" fill="#e4e5e7" stroke="#1e1e1e" stroke-width="1"/>
<polygon points="609.8,196.0 620.3,196.0 620.3,207.4 609.8,207.4" fill="#e4e5e7" stroke="#1e1e1e" stroke-width="1"/>
<line x1="620.3" y1="205.3" x2="644.0" y2="205.3" stroke="#1e1e1e" stroke-width="1"/>
<line x1="591.5" y1="209.3" x2="643.0" y2="209.3" stroke="#1e1e1e" stroke-width="1"/>
<line x1="591.5" y1="209.3" x2="591.5" y2="224.4" stroke="#1e1e1e" stroke-width="1"/>
<line x1="593.0" y1="209.3" x2="593.0" y2="224.4" stroke="#1e1e1e" stroke-width="0.8"/>
<line x1="609.5" y1="220.5" x2="624.4" y2="220.5" stroke="#1e1e1e" stroke-width="1"/>
<path d="M583,179 Q589,167 596,179" stroke="#1e1e1e" stroke-width="0.9" fill="none"/>
<path d="M586,179 Q589,172 593,179" stroke="#1e1e1e" stroke-width="0.7" fill="none"/>
<ellipse cx="632" cy="188" rx="3.6" ry="6.5" stroke="#1e1e1e" stroke-width="0.9" fill="#e4e5e7"/>
<ellipse cx="632" cy="198" rx="4.5" ry="1.8" stroke="#1e1e1e" stroke-width="0.9" fill="#e4e5e7"/>
<path d="M611,200 Q605,204 609,210" stroke="#1e1e1e" stroke-width="0.8" fill="none"/>
<line x1="546.5" y1="247.5" x2="546.5" y2="267.0" stroke="#1e1e1e" stroke-width="1.05"/>
<polygon points="546.5,247.5 548.0,253.5 545.0,253.5" fill="#1e1e1e"/>
<polygon points="546.5,267.0 545.0,261.0 548.0,261.0" fill="#1e1e1e"/>
<line x1="685.0" y1="247.5" x2="685.0" y2="267.0" stroke="#1e1e1e" stroke-width="1.05"/>
<polygon points="685.0,247.5 686.5,253.5 683.5,253.5" fill="#1e1e1e"/>
<polygon points="685.0,267.0 683.5,261.0 686.5,261.0" fill="#1e1e1e"/>
<text x="542.3" y="257.3" font-size="11.2" text-anchor="middle" fill="#1e1e1e" font-weight="normal" letter-spacing="0.3" transform="rotate(-90 542.3 257.3)">25</text>
<text x="681.5" y="257.3" font-size="11.2" text-anchor="middle" fill="#1e1e1e" font-weight="normal" letter-spacing="0.3" transform="rotate(-90 681.5 257.3)">25</text>
<polyline points="528.4,57.2 558.0,132.8" stroke="#1e1e1e" stroke-width="1" fill="none"/>
<circle cx="525.2" cy="51.4" r="6.2" stroke="#262626" stroke-width="1" fill="white"/>
<text x="525.2" y="54.8" font-size="9.6" text-anchor="middle" fill="#1e1e1e" font-weight="normal">1</text>
<polyline points="541.6,292.0 545.5,292.0 585.6,229.4" stroke="#1e1e1e" stroke-width="1" fill="none"/>
<circle cx="535.4" cy="292.0" r="6.2" stroke="#262626" stroke-width="1" fill="white"/>
<text x="535.4" y="295.4" font-size="9.6" text-anchor="middle" fill="#1e1e1e" font-weight="normal" letter-spacing="-0.9">12</text>
<polygon points="221.7,411.2 420.2,411.2 420.2,527.2 221.7,527.2" fill="#e4e5e7" stroke="none"/>
<polygon points="397.2,449.2 417.4,449.2 417.4,488.4 397.2,488.4" fill="#e4e5e7" stroke="#1e1e1e" stroke-width="1"/>
<line x1="418.9" y1="449.2" x2="418.9" y2="488.4" stroke="#777" stroke-width="3"/>
<line x1="221.7" y1="411.2" x2="498.6" y2="411.2" stroke="#1e1e1e" stroke-width="1"/>
<line x1="336.2" y1="422.6" x2="480.9" y2="422.6" stroke="#1e1e1e" stroke-width="0.9"/>
<line x1="195.0" y1="434.3" x2="459.7" y2="434.3" stroke="#1e1e1e" stroke-width="1"/>
<line x1="195.6" y1="503.6" x2="459.4" y2="503.6" stroke="#1e1e1e" stroke-width="1"/>
<line x1="283.0" y1="515.6" x2="480.0" y2="515.6" stroke="#1e1e1e" stroke-width="0.9"/>
<line x1="221.7" y1="527.2" x2="498.4" y2="527.2" stroke="#1e1e1e" stroke-width="1"/>
<line x1="221.7" y1="350.0" x2="221.7" y2="527.2" stroke="#1e1e1e" stroke-width="1"/>
<line x1="237.4" y1="370.8" x2="237.4" y2="527.2" stroke="#1e1e1e" stroke-width="1"/>
<line x1="397.2" y1="370.8" x2="397.2" y2="527.2" stroke="#1e1e1e" stroke-width="1"/>
<line x1="420.2" y1="350.0" x2="420.2" y2="527.2" stroke="#6a6a6a" stroke-width="1.6"/>
<line x1="271.7" y1="394.6" x2="271.7" y2="434.3" stroke="#1e1e1e" stroke-width="0.9"/>
<line x1="359.2" y1="394.6" x2="359.2" y2="434.3" stroke="#1e1e1e" stroke-width="0.9"/>
<line x1="312.5" y1="434.3" x2="312.5" y2="497.4" stroke="#1e1e1e" stroke-width="0.9"/>
<line x1="317.4" y1="434.3" x2="317.4" y2="503.6" stroke="#1e1e1e" stroke-width="0.9"/>
<line x1="328.7" y1="434.3" x2="328.7" y2="497.0" stroke="#1e1e1e" stroke-width="0.9"/>
<line x1="336.4" y1="434.3" x2="336.4" y2="503.6" stroke="#1e1e1e" stroke-width="0.9"/>
<polyline points="328.7,442.2 336.4,442.2" stroke="#1e1e1e" stroke-width="0.9" fill="none"/>
<line x1="330.8" y1="434.3" x2="330.8" y2="442.2" stroke="#1e1e1e" stroke-width="0.7"/>
<circle cx="271.7" cy="422.6" r="8.2" stroke="#1e1e1e" stroke-width="1" fill="none"/>
<circle cx="271.7" cy="422.6" r="5.3" stroke="#1e1e1e" stroke-width="1.4" fill="white"/>
<line x1="263.2" y1="422.6" x2="283.2" y2="422.6" stroke="#1e1e1e" stroke-width="0.8"/>
<line x1="271.7" y1="411.6" x2="271.7" y2="433.6" stroke="#1e1e1e" stroke-width="0.8"/>
<circle cx="320.8" cy="422.6" r="6.0" stroke="#1e1e1e" stroke-width="1" fill="none"/>
<circle cx="320.8" cy="422.6" r="4.0" stroke="#1e1e1e" stroke-width="1" fill="none"/>
<line x1="310.8" y1="422.6" x2="330.8" y2="422.6" stroke="#1e1e1e" stroke-width="0.8"/>
<line x1="320.8" y1="413.1" x2="320.8" y2="432.1" stroke="#1e1e1e" stroke-width="0.8"/>
<circle cx="359.2" cy="422.6" r="8.2" stroke="#1e1e1e" stroke-width="1" fill="none"/>
<circle cx="359.2" cy="422.6" r="5.3" stroke="#1e1e1e" stroke-width="1.4" fill="white"/>
<line x1="350.7" y1="422.6" x2="370.7" y2="422.6" stroke="#1e1e1e" stroke-width="0.8"/>
<line x1="359.2" y1="411.6" x2="359.2" y2="433.6" stroke="#1e1e1e" stroke-width="0.8"/>
<circle cx="271.6" cy="515.7" r="8.2" stroke="#1e1e1e" stroke-width="1" fill="none"/>
<circle cx="271.6" cy="515.7" r="5.3" stroke="#1e1e1e" stroke-width="1.4" fill="white"/>
<line x1="263.1" y1="515.7" x2="283.1" y2="515.7" stroke="#1e1e1e" stroke-width="0.8"/>
<line x1="271.6" y1="504.7" x2="271.6" y2="526.7" stroke="#1e1e1e" stroke-width="0.8"/>
<circle cx="320.9" cy="515.7" r="6.0" stroke="#1e1e1e" stroke-width="1" fill="none"/>
<circle cx="320.9" cy="515.7" r="4.0" stroke="#1e1e1e" stroke-width="1" fill="none"/>
<line x1="310.9" y1="515.7" x2="330.9" y2="515.7" stroke="#1e1e1e" stroke-width="0.8"/>
<line x1="320.9" y1="506.2" x2="320.9" y2="525.2" stroke="#1e1e1e" stroke-width="0.8"/>
<circle cx="359.2" cy="515.7" r="8.2" stroke="#1e1e1e" stroke-width="1" fill="none"/>
<circle cx="359.2" cy="515.7" r="5.3" stroke="#1e1e1e" stroke-width="1.4" fill="white"/>
<line x1="350.7" y1="515.7" x2="370.7" y2="515.7" stroke="#1e1e1e" stroke-width="0.8"/>
<line x1="359.2" y1="504.7" x2="359.2" y2="526.7" stroke="#1e1e1e" stroke-width="0.8"/>
<circle cx="410.5" cy="457.8" r="6.0" stroke="#1e1e1e" stroke-width="1" fill="none"/>
<circle cx="410.5" cy="457.8" r="4.0" stroke="#1e1e1e" stroke-width="1" fill="none"/>
<line x1="400.5" y1="457.8" x2="420.5" y2="457.8" stroke="#1e1e1e" stroke-width="0.8"/>
<line x1="410.5" y1="448.3" x2="410.5" y2="467.3" stroke="#1e1e1e" stroke-width="0.8"/>
<circle cx="410.5" cy="480.4" r="6.0" stroke="#1e1e1e" stroke-width="1" fill="none"/>
<circle cx="410.5" cy="480.4" r="4.0" stroke="#1e1e1e" stroke-width="1" fill="none"/>
<line x1="400.5" y1="480.4" x2="420.5" y2="480.4" stroke="#1e1e1e" stroke-width="0.8"/>
<line x1="410.5" y1="470.9" x2="410.5" y2="489.9" stroke="#1e1e1e" stroke-width="0.8"/>
<line x1="221.7" y1="357.2" x2="420.2" y2="357.2" stroke="#1e1e1e" stroke-width="1.05"/>
<polygon points="221.7,357.2 227.7,355.8 227.7,358.6" fill="#1e1e1e"/>
<polygon points="420.2,357.2 414.2,358.6 414.2,355.8" fill="#1e1e1e"/>
<text x="320.8" y="355.0" font-size="11.5" text-anchor="middle" fill="#1e1e1e" font-weight="normal" letter-spacing="0.3">260</text>
<line x1="221.7" y1="374.4" x2="237.4" y2="374.4" stroke="#1e1e1e" stroke-width="1.05"/>
<polygon points="221.7,374.4 227.7,372.9 227.7,375.8" fill="#1e1e1e"/>
<polygon points="237.4,374.4 231.4,375.8 231.4,372.9" fill="#1e1e1e"/>
<line x1="237.4" y1="374.4" x2="397.2" y2="374.4" stroke="#1e1e1e" stroke-width="1.05"/>
<polygon points="237.4,374.4 243.4,372.9 243.4,375.8" fill="#1e1e1e"/>
<polygon points="397.2,374.4 391.2,375.8 391.2,372.9" fill="#1e1e1e"/>
<line x1="397.2" y1="374.4" x2="420.2" y2="374.4" stroke="#1e1e1e" stroke-width="1.05"/>
<polygon points="397.2,374.4 403.2,372.9 403.2,375.8" fill="#1e1e1e"/>
<polygon points="420.2,374.4 414.2,375.8 414.2,372.9" fill="#1e1e1e"/>
<text x="229.5" y="372.3" font-size="11.5" text-anchor="middle" fill="#1e1e1e" font-weight="normal" letter-spacing="0.3">20</text>
<text x="317.3" y="372.3" font-size="11.5" text-anchor="middle" fill="#1e1e1e" font-weight="normal" letter-spacing="0.3">210</text>
<text x="408.7" y="372.3" font-size="11.5" text-anchor="middle" fill="#1e1e1e" font-weight="normal" letter-spacing="0.3">30</text>
<line x1="271.7" y1="398.5" x2="359.2" y2="398.5" stroke="#1e1e1e" stroke-width="1.05"/>
<polygon points="271.7,398.5 277.7,397.1 277.7,399.9" fill="#1e1e1e"/>
<polygon points="359.2,398.5 353.2,399.9 353.2,397.1" fill="#1e1e1e"/>
<text x="312.2" y="396.8" text-anchor="middle" fill="#1e1e1e" letter-spacing="0.3"><tspan font-size="11.8" dx="0">115</tspan><tspan font-size="10.5" dx="1.5">±</tspan><tspan font-size="11.8" dx="2">0.2</tspan></text>
<line x1="258.0" y1="417.0" x2="258.0" y2="434.3" stroke="#1e1e1e" stroke-width="0.9"/>
<polygon points="258.0,434.3 256.6,428.3 259.4,428.3" fill="#1e1e1e"/>
<line x1="258.0" y1="456.0" x2="258.0" y2="442.6" stroke="#1e1e1e" stroke-width="0.9"/>
<polygon points="258.0,442.6 259.4,448.6 256.6,448.6" fill="#1e1e1e"/>
<line x1="251.0" y1="442.6" x2="279.5" y2="442.6" stroke="#1e1e1e" stroke-width="0.9"/>
<text x="255.2" y="421.6" font-size="11" text-anchor="middle" fill="#1e1e1e" font-weight="normal" letter-spacing="0.3" transform="rotate(-90 255.2 421.6)">10</text>
<line x1="201.1" y1="434.3" x2="201.1" y2="503.6" stroke="#1e1e1e" stroke-width="1.05"/>
<polygon points="201.1,434.3 202.5,440.3 199.7,440.3" fill="#1e1e1e"/>
<polygon points="201.1,503.6 199.7,497.6 202.5,497.6" fill="#1e1e1e"/>
<text x="198.0" y="469.7" font-size="11" text-anchor="middle" fill="#1e1e1e" font-weight="normal" letter-spacing="0.3" transform="rotate(-90 198.0 469.7)">W=90</text>
<line x1="237.4" y1="468.9" x2="312.5" y2="468.9" stroke="#1e1e1e" stroke-width="1.05"/>
<polygon points="237.4,468.9 243.4,467.4 243.4,470.3" fill="#1e1e1e"/>
<polygon points="312.5,468.9 306.5,470.3 306.5,467.4" fill="#1e1e1e"/>
<text x="275.0" y="466.0" font-size="11.5" text-anchor="middle" fill="#1e1e1e" font-weight="normal" letter-spacing="0.3">L=100</text>
<line x1="347.2" y1="422.6" x2="347.2" y2="515.6" stroke="#1e1e1e" stroke-width="0.9"/>
<polygon points="347.2,422.6 348.6,428.6 345.8,428.6" fill="#1e1e1e"/>
<polygon points="347.2,515.6 345.8,509.6 348.6,509.6" fill="#1e1e1e"/>
<text x="358.3" y="471.4" text-anchor="middle" fill="#1e1e1e" letter-spacing="0.3" transform="rotate(-90 358.3 471.4)"><tspan font-size="11.2" dx="0">120</tspan><tspan font-size="10.5" dx="1">±</tspan><tspan font-size="9.2" dx="1.5">0.02</tspan></text>
<line x1="451.4" y1="434.3" x2="451.4" y2="503.6" stroke="#1e1e1e" stroke-width="1.05"/>
<polygon points="451.4,434.3 452.8,440.3 449.9,440.3" fill="#1e1e1e"/>
<polygon points="451.4,503.6 449.9,497.6 452.8,497.6" fill="#1e1e1e"/>
<text x="449.5" y="469.2" font-size="11" text-anchor="middle" fill="#1e1e1e" font-weight="normal" letter-spacing="0.3" transform="rotate(-90 449.5 469.2)">90</text>
<line x1="474.2" y1="422.6" x2="474.2" y2="515.6" stroke="#1e1e1e" stroke-width="1.05"/>
<polygon points="474.2,422.6 475.6,428.6 472.8,428.6" fill="#1e1e1e"/>
<polygon points="474.2,515.6 472.8,509.6 475.6,509.6" fill="#1e1e1e"/>
<text x="472.2" y="472.4" text-anchor="middle" fill="#1e1e1e" letter-spacing="0.3" transform="rotate(-90 472.2 472.4)"><tspan font-size="11.8" dx="0">120</tspan><tspan font-size="10.5" dx="1.5">±</tspan><tspan font-size="11.8" dx="2">0.2</tspan></text>
<line x1="492.5" y1="411.2" x2="492.5" y2="527.2" stroke="#1e1e1e" stroke-width="1.05"/>
<polygon points="492.5,411.2 493.9,417.2 491.1,417.2" fill="#1e1e1e"/>
<polygon points="492.5,527.2 491.1,521.2 493.9,521.2" fill="#1e1e1e"/>
<text x="490.5" y="468.3" font-size="11" text-anchor="middle" fill="#1e1e1e" font-weight="normal" letter-spacing="0.3" transform="rotate(-90 490.5 468.3)">150</text>
<line x1="359.2" y1="520.0" x2="359.2" y2="548.0" stroke="#1e1e1e" stroke-width="0.9"/>
<line x1="321.0" y1="520.0" x2="321.0" y2="567.0" stroke="#1e1e1e" stroke-width="0.9"/>
<line x1="419.7" y1="527.2" x2="419.7" y2="567.0" stroke="#1e1e1e" stroke-width="0.9"/>
<line x1="359.2" y1="544.7" x2="419.7" y2="544.7" stroke="#1e1e1e" stroke-width="1.05"/>
<polygon points="359.2,544.7 365.2,543.2 365.2,546.2" fill="#1e1e1e"/>
<polygon points="419.7,544.7 413.7,546.2 413.7,543.2" fill="#1e1e1e"/>
<text x="389.8" y="542.4" text-anchor="middle" fill="#1e1e1e" letter-spacing="0.3"><tspan font-size="11.5" dx="0">80</tspan><tspan font-size="10.5" dx="1.5">±</tspan><tspan font-size="9.2" dx="2">0.2</tspan></text>
<line x1="321.0" y1="563.2" x2="419.7" y2="563.2" stroke="#1e1e1e" stroke-width="1.05"/>
<polygon points="321.0,563.2 327.0,561.8 327.0,564.7" fill="#1e1e1e"/>
<polygon points="419.7,563.2 413.7,564.7 413.7,561.8" fill="#1e1e1e"/>
<text x="370.5" y="560.7" text-anchor="middle" fill="#1e1e1e" letter-spacing="0.3"><tspan font-size="11.5" dx="0">130</tspan><tspan font-size="10.5" dx="1.5">±</tspan><tspan font-size="9.2" dx="2">0.05</tspan></text>
<line x1="189.0" y1="549.2" x2="228.6" y2="549.2" stroke="#1e1e1e" stroke-width="0.9"/>
<line x1="228.6" y1="549.2" x2="263.5" y2="521.8" stroke="#1e1e1e" stroke-width="0.9"/>
<polygon points="263.5,521.8 259.6,526.6 257.9,524.3" fill="#1e1e1e"/>
<text x="207.3" y="546.9" font-size="11.2" text-anchor="middle" fill="#1e1e1e" font-weight="normal" letter-spacing="0.9">Φ13</text>
<line x1="183.0" y1="565.5" x2="230.5" y2="565.5" stroke="#1e1e1e" stroke-width="0.9"/>
<line x1="230.5" y1="565.5" x2="267.7" y2="520.7" stroke="#1e1e1e" stroke-width="0.9"/>
<polygon points="267.7,520.7 265.0,526.2 262.7,524.4" fill="#1e1e1e"/>
<text x="206.3" y="562.6" font-size="11.2" text-anchor="middle" fill="#1e1e1e" font-weight="normal" letter-spacing="0.9">4-Φ19.5</text>
<line x1="248.8" y1="565.5" x2="302.0" y2="565.5" stroke="#1e1e1e" stroke-width="0.9"/>
<line x1="302.0" y1="565.5" x2="318.5" y2="520.7" stroke="#1e1e1e" stroke-width="0.9"/>
<polygon points="318.5,520.7 317.8,526.8 315.1,525.8" fill="#1e1e1e"/>
<text x="275.5" y="562.6" font-size="11.2" text-anchor="middle" fill="#1e1e1e" font-weight="normal" letter-spacing="0.9">2-Φ12H7</text>
<line x1="328.7" y1="497.0" x2="322.5" y2="509.5" stroke="#1e1e1e" stroke-width="0.9"/>
<polygon points="322.5,509.5 323.9,503.5 326.5,504.8" fill="#1e1e1e"/>
<line x1="287.0" y1="509.5" x2="280.5" y2="514.0" stroke="#1e1e1e" stroke-width="0.9"/>
<polygon points="278.3,515.0 282.4,510.4 284.0,512.7" fill="#1e1e1e"/>
<polygon points="576.3,412.2 588.9,412.2 588.9,424.6 576.3,424.6" fill="#1e1b1c" stroke="none"/>
<text x="591.6" y="423.6" font-size="12.3" text-anchor="start" fill="#2a2a2a" font-weight="normal" letter-spacing="-0.33">Cam Diagram</text>
<polygon points="589.0,518.7 670.0,435.3 670.0,518.7" fill="#e4e5e7" stroke="none"/>
<polygon points="589.0,470.8 589.0,518.7 670.0,518.7" fill="#e4e5e7" stroke="none"/>
<line x1="589.0" y1="518.7" x2="670.0" y2="435.3" stroke="#1e1e1e" stroke-width="1"/>
<line x1="589.0" y1="470.8" x2="670.0" y2="518.7" stroke="#1e1e1e" stroke-width="1"/>
<line x1="589.0" y1="470.8" x2="589.0" y2="547.7" stroke="#1e1e1e" stroke-width="1"/>
<line x1="670.0" y1="435.3" x2="670.0" y2="547.7" stroke="#1e1e1e" stroke-width="1"/>
<line x1="575.4" y1="518.7" x2="685.3" y2="518.7" stroke="#1e1e1e" stroke-width="1.1"/>
<line x1="670.0" y1="435.3" x2="685.3" y2="435.3" stroke="#1e1e1e" stroke-width="1"/>
<line x1="575.4" y1="470.8" x2="589.0" y2="470.8" stroke="#1e1e1e" stroke-width="1"/>
<line x1="681.6" y1="435.3" x2="681.6" y2="518.7" stroke="#1e1e1e" stroke-width="1.05"/>
<polygon points="681.6,435.3 683.1,441.3 680.1,441.3" fill="#1e1e1e"/>
<polygon points="681.6,518.7 680.1,512.7 683.1,512.7" fill="#1e1e1e"/>
<text x="680.5" y="477.0" font-size="12" text-anchor="middle" fill="#1e1e1e" font-weight="normal" letter-spacing="0.3" transform="rotate(-90 680.5 477.0)">43</text>
<line x1="579.9" y1="470.8" x2="579.9" y2="518.7" stroke="#1e1e1e" stroke-width="1.05"/>
<polygon points="579.9,470.8 581.4,476.8 578.4,476.8" fill="#1e1e1e"/>
<polygon points="579.9,518.7 578.4,512.7 581.4,512.7" fill="#1e1e1e"/>
<text x="576.8" y="494.4" font-size="12" text-anchor="middle" fill="#1e1e1e" font-weight="normal" letter-spacing="0.3" transform="rotate(-90 576.8 494.4)">24.8</text>
<line x1="589.0" y1="542.8" x2="670.0" y2="542.8" stroke="#1e1e1e" stroke-width="1.05"/>
<polygon points="589.0,542.8 595.0,541.3 595.0,544.2" fill="#1e1e1e"/>
<polygon points="670.0,542.8 664.0,544.2 664.0,541.3" fill="#1e1e1e"/>
<text x="629.5" y="541.0" font-size="12" text-anchor="middle" fill="#1e1e1e" font-weight="normal" letter-spacing="0.3">43</text>
<path d="M606,503.4 A22.5,22.5 0 0 1 611.5,518.3" stroke="#1e1e1e" stroke-width="0.9" fill="none"/>
<polygon points="606.0,503.4 609.6,505.7 607.2,507.5" fill="#1e1e1e"/>
<polygon points="611.5,518.3 609.9,514.4 612.7,514.2" fill="#1e1e1e"/>
<path d="M646.9,507 A24,24 0 0 0 645.6,518.3" stroke="#1e1e1e" stroke-width="0.9" fill="none"/>
<polygon points="646.9,507.0 646.2,511.2 643.7,509.8" fill="#1e1e1e"/>
<polygon points="645.6,518.3 644.1,514.3 647.1,514.3" fill="#1e1e1e"/>
<text x="615.5" y="513.0" font-size="11.8" text-anchor="middle" fill="#1e1e1e" font-weight="normal" letter-spacing="0.8" transform="rotate(58 615.5 513.0)">45°</text>
<text x="637.5" y="509.5" font-size="11.8" text-anchor="middle" fill="#1e1e1e" font-weight="normal" letter-spacing="0.8" transform="rotate(-82 637.5 509.5)">30°</text>
</svg>
</body></html>
